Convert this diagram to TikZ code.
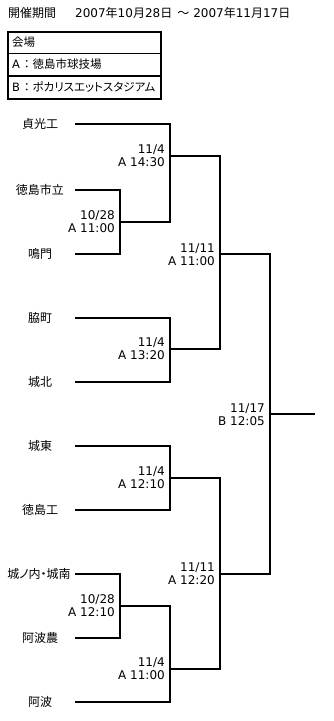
\documentclass[tikz,border=0pt]{standalone}
\usepackage{fontspec}
\setmainfont{Noto Sans CJK JP}
\newfontfamily\lat{DejaVu Sans}
\newfontfamily\jpp[RawFeature=+palt]{Noto Sans CJK JP}
\begin{document}
\begin{tikzpicture}[x=1pt,y=-1pt,
  team/.style={font=\fontsize{12}{14}\selectfont, inner sep=0},
  match/.style={font=\lat\fontsize{12}{13}\selectfont, align=right, anchor=east, inner sep=0},
  bline/.style={line width=1.8pt},
  cell/.style={font=\fontsize{11.5}{13}\selectfont, anchor=west, inner sep=0},
  tbox/.style={line width=1.2pt}]
\useasboundingbox (0,0) rectangle (334,721);
% title
\node[team, anchor=west] (title) at (8,13) {開催期間};
\node[team, anchor=west] (period) at (75,13) {{\lat 2007}年{\lat 10}月{\lat 28}日\hspace{5pt}～\hspace{4pt}{\lat 2007}年{\lat 11}月{\lat 17}日};
% venue table
\draw[tbox] (8,32) rectangle (161,99);
\draw[tbox] (8,53.5) -- (161,53.5);
\draw[tbox] (8,76) -- (161,76);
\node[cell] (v0) at (12,42.5) {会場};
\node[cell] (v1) at (12,64.5) {{\lat A}\hspace{1pt}：徳島市球技場};
\node[cell] (v2) at (12,87.5) {{\lat B}\hspace{1pt}：{\jpp ポカリスエットスタジアム}};
% teams
\node[team] (t1) at (40,124) {貞光工};
\node[team] (t2) at (40,190) {徳島市立};
\node[team] (t3) at (40,254) {鳴門};
\node[team] (t4) at (40,318) {脇町};
\node[team] (t5) at (40,382) {城北};
\node[team] (t6) at (40,446) {城東};
\node[team] (t7) at (40,510) {徳島工};
\node[team] (t8) at (39,574) {\jpp 城ノ内・城南};
\node[team] (t9) at (40,638) {阿波農};
\node[team] (t10) at (40,702) {阿波};
% line starts
\coordinate (a1) at (75,124);
\coordinate (a2) at (75,190);
\coordinate (a3) at (75,254);
\coordinate (a4) at (75,318);
\coordinate (a5) at (75,382);
\coordinate (a6) at (75,446);
\coordinate (a7) at (75,510);
\coordinate (a8) at (75,574);
\coordinate (a9) at (75,638);
\coordinate (a10) at (75,702);
% match points
\coordinate (m1) at (120,222);
\coordinate (m2) at (170,156);
\coordinate (m3) at (170,349);
\coordinate (m4) at (220,254);
\coordinate (m5) at (170,478);
\coordinate (m6) at (120,606);
\coordinate (m7) at (170,669);
\coordinate (m8) at (220,574);
\coordinate (m9) at (270,414);
\coordinate (win) at (315,414);
% bracket
\draw[bline] (a2) -| (m1) |- (a3);
\draw[bline] (a1) -| (m2) |- (m1);
\draw[bline] (a4) -| (m3) |- (a5);
\draw[bline] (m2) -| (m4) |- (m3);
\draw[bline] (a6) -| (m5) |- (a7);
\draw[bline] (a8) -| (m6) |- (a9);
\draw[bline] (m6) -| (m7) |- (a10);
\draw[bline] (m5) -| (m8) |- (m7);
\draw[bline] (m4) -| (m9) |- (m8);
\draw[bline] (m9) -- (win);
% match labels
\node[match] (l1) at (115,222) {10/28\\A 11:00};
\node[match] (l2) at (165,156) {11/4\\A 14:30};
\node[match] (l3) at (165,349) {11/4\\A 13:20};
\node[match] (l4) at (215,255) {11/11\\A 11:00};
\node[match] (l5) at (165,478) {11/4\\A 12:10};
\node[match] (l6) at (115,606) {10/28\\A 12:10};
\node[match] (l7) at (165,669) {11/4\\A 11:00};
\node[match] (l8) at (215,574) {11/11\\A 12:20};
\node[match] (l9) at (265,415) {11/17\\B 12:05};
\end{tikzpicture}
\end{document}
